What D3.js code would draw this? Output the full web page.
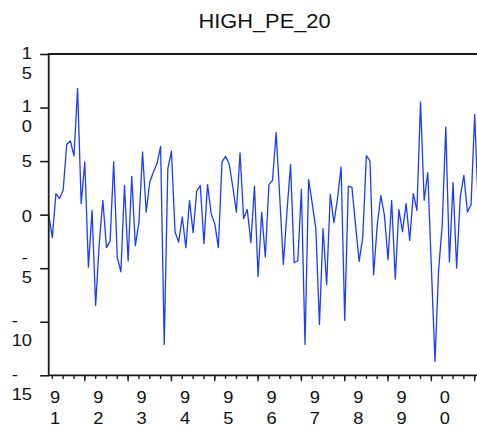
<!DOCTYPE html>
<html>
<head>
<meta charset="utf-8">
<script src="https://cdn.jsdelivr.net/npm/d3@7"></script>
<style>
  html, body { margin: 0; padding: 0; background: #fff; overflow: hidden; }
  svg { display: block; }
  text { font-family: "Liberation Sans", Arial, sans-serif; fill: #111; }
</style>
</head>
<body>
<svg id="chart" width="477" height="431"></svg>
<script>
// Monthly observations of HIGH_PE_20 (120 months)
const seriesValues = [
  0.0, -2.15, 1.96, 1.5, 2.27, 6.57, 6.88, 5.48, 11.78, 1.03,
  4.92, -4.9, 0.4, -8.48, -2.7, 1.34, -3.08, -2.5, 4.92, -4.0,
  -5.33, 2.74, -4.33, 3.58, -2.9, -0.69, 5.85, 0.24, 3.05, 3.98,
  4.77, 6.38, -12.12, 4.3, 5.92, -1.62, -2.56, -0.22, -3.08, 1.34,
  -1.68, 2.21, 2.71, -2.71, 2.83, 0.09, -0.84, -3.08, 4.92, 5.45,
  4.7, 2.58, 0.24, 5.76, -0.37, 0.47, -2.62, 2.67, -5.77, 0.24,
  -3.96, 2.8, 3.2, 7.66, 1.65, -4.64, 0.3, 4.67, -4.49, -4.3,
  2.36, -12.12, 3.27, 1.03, -1.31, -10.25, -1.31, -6.54, 1.9, -0.75,
  1.5, 4.45, -9.88, 2.67, 2.55, -1.0, -4.36, -2.09, 5.51, 5.01,
  -5.61, -1.0, 1.78, -0.07, -4.21, 1.34, -6.02, 0.47, -1.59, 1.03,
  -2.4, 1.96, 0.4, 10.52, 1.34, 3.93, -4.9, -13.71, -5.2, -1.0,
  8.19, -4.43, 2.99, -4.99, 1.65, 3.67, 0.24, 0.96, 9.37, 0.56
];

// Y axis ticks and their (wrapped) labels
const yTicks = [15, 10, 5, 0, -5, -10, -15];
const yTickLabels = [["1", "5"], ["1", "0"], ["5"], ["0"], ["-", "5"], ["-", "10"], ["-", "15"]];

// X axis year labels (two-digit years, wrapped one digit per line)
const xTickLabels = [["9","1"],["9","2"],["9","3"],["9","4"],["9","5"],["9","6"],["9","7"],["9","8"],["9","9"],["0","0"]];

const titleText = "HIGH_PE_20";

// ---- layout ----
const plotLeft = 48.7, plotTop = 54, plotBottom = 375.3;
const step = 3.61;
const plotRight = plotLeft + step * (seriesValues.length - 1);
const sx = 1.12;          // horizontal text stretch
const fs = 16.3;          // tick label font size
const lineGap = 20;
const labelRight = 32;

const svg = d3.select("#chart");

const x = d3.scaleLinear().domain([0, seriesValues.length - 1]).range([plotLeft, plotRight]);
const y = d3.scaleLinear().domain([-15, 15]).range([plotBottom, plotTop]);

// Title
svg.append("text")
  .attr("transform", `translate(264.5,28) scale(${sx},1)`)
  .attr("text-anchor", "middle")
  .attr("font-size", 19.5)
  .text(titleText);

// Series line
const line = d3.line().x((d, i) => x(i)).y(d => y(d));
svg.append("path")
  .datum(seriesValues)
  .attr("fill", "none")
  .attr("stroke", "#1c3cff")
  .attr("stroke-width", 1.3)
  .attr("stroke-linejoin", "round")
  .attr("d", line);

// Frame (left, top, bottom)
const frame = d3.path();
frame.moveTo(plotRight + 5, plotTop);
frame.lineTo(plotLeft, plotTop);
frame.lineTo(plotLeft, plotBottom);
frame.lineTo(plotRight + 5, plotBottom);
svg.append("path")
  .attr("d", frame.toString())
  .attr("fill", "none")
  .attr("stroke", "#1a1a1a")
  .attr("stroke-width", 1.8);

// Y axis ticks
const yAxis = d3.axisLeft(y).tickValues(yTicks).tickSize(8.5).tickFormat("");
const gy = svg.append("g").attr("transform", `translate(${plotLeft},0)`).call(yAxis);
gy.select(".domain").remove();
gy.selectAll(".tick line").attr("stroke", "#1a1a1a").attr("stroke-width", 1.6);

// Y tick labels: each wrapped label is a block right-aligned to the axis,
// with its lines left-aligned inside the block.
const yFirstShift = [5.1, 4.8, 5.5, 7.3, -5.4, 4.6, 4.6];
yTicks.forEach((v, k) => {
  const g = svg.append("g");
  const texts = yTickLabels[k].map((s, j) =>
    g.append("text")
      .attr("font-size", fs)
      .attr("text-anchor", "start")
      .attr("data-line", j)
      .text(s));
  const widths = texts.map(t => t.node().getComputedTextLength() * sx);
  const blockW = d3.max(widths);
  texts.forEach((t, j) => {
    t.attr("transform",
      `translate(${labelRight - blockW},${y(v) + yFirstShift[k] + j * lineGap}) scale(${sx},1)`);
  });
});

// X axis ticks: quarterly minor ticks, yearly major ticks
const minorIdx = d3.range(1, seriesValues.length, 3);
const majorIdx = d3.range(10, seriesValues.length, 12);
const gx = svg.append("g");
gx.selectAll("line.minor").data(minorIdx).join("line")
  .attr("class", "minor")
  .attr("x1", d => x(d)).attr("x2", d => x(d))
  .attr("y1", plotBottom).attr("y2", plotBottom + 3.6)
  .attr("stroke", "#1a1a1a").attr("stroke-width", 1.4);
gx.selectAll("line.major").data(majorIdx).join("line")
  .attr("class", "major")
  .attr("x1", d => x(d)).attr("x2", d => x(d))
  .attr("y1", plotBottom).attr("y2", plotBottom + 6)
  .attr("stroke", "#1a1a1a").attr("stroke-width", 1.4);

// X tick labels
xTickLabels.forEach((lab, k) => {
  const cx = x(1.75 + 12 * k);
  lab.forEach((s, j) => {
    svg.append("text")
      .attr("transform", `translate(${cx},${403 + j * 21}) scale(${sx},1)`)
      .attr("text-anchor", "middle")
      .attr("font-size", fs)
      .text(s);
  });
});
</script>
</body>
</html>
